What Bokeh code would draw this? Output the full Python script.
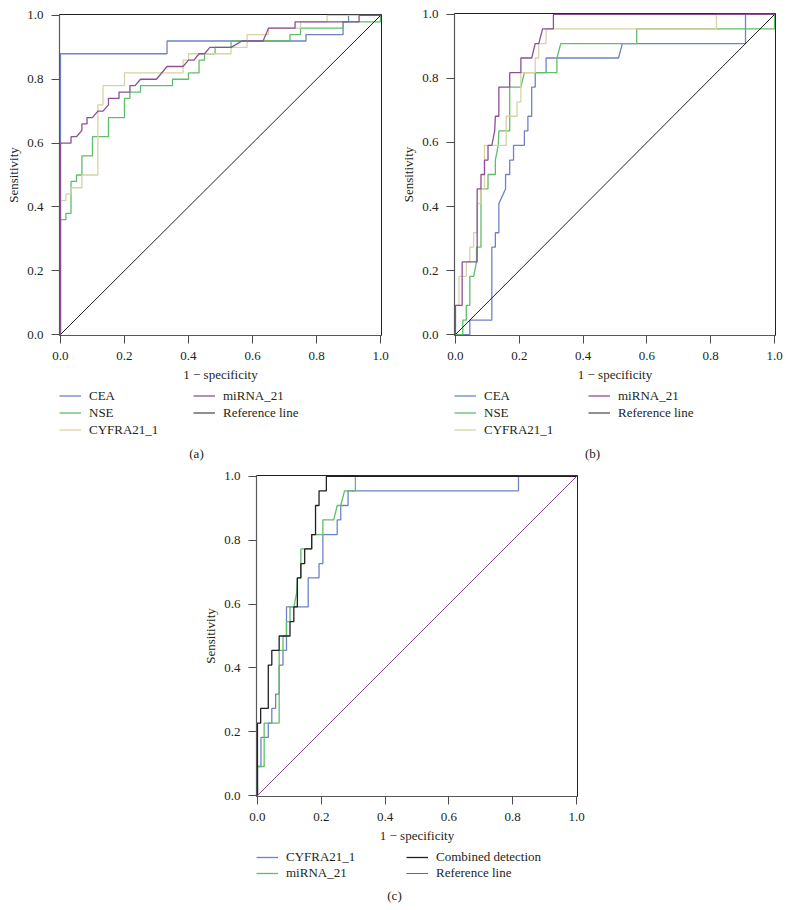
from bokeh.plotting import figure
from bokeh.models import Range1d, FixedTicker, Legend, LegendItem, Label, Spacer, PrintfTickFormatter
from bokeh.layouts import column, row
from bokeh.embed import file_html
from bokeh.resources import INLINE

TICKS = [0.0, 0.2, 0.4, 0.6, 0.8, 1.0]
X_LABEL = "1 \u2212 specificity"
Y_LABEL = "Sensitivity"

# ---------------- panel (a) ----------------
a_cea_x = [0, 0, 0.333, 0.333, 0.767, 0.767, 0.883, 0.883, 0.9, 0.9, 1.0]
a_cea_y = [0, 0.88, 0.88, 0.92, 0.92, 0.94, 0.94, 0.98, 0.98, 1.0, 1.0]

a_nse_x = [0, 0, 0.017, 0.017, 0.033, 0.033, 0.05, 0.05, 0.067, 0.067, 0.1, 0.1, 0.15, 0.15,
           0.2, 0.2, 0.217, 0.217, 0.25, 0.25, 0.35, 0.35, 0.4, 0.4, 0.433, 0.433, 0.45, 0.45,
           0.483, 0.483, 0.533, 0.533, 0.717, 0.717, 0.75, 0.75, 0.883, 0.883, 1.0, 1.0]
a_nse_y = [0, 0.36, 0.36, 0.38, 0.38, 0.48, 0.48, 0.50, 0.50, 0.56, 0.56, 0.62, 0.62, 0.68,
           0.68, 0.74, 0.74, 0.76, 0.76, 0.78, 0.78, 0.80, 0.80, 0.82, 0.82, 0.86, 0.86, 0.88,
           0.88, 0.90, 0.90, 0.92, 0.92, 0.94, 0.94, 0.96, 0.96, 0.98, 0.98, 1.0]

a_cyf_x = [0, 0, 0.017, 0.017, 0.033, 0.033, 0.067, 0.067, 0.117, 0.117, 0.133, 0.133, 0.2, 0.2,
           0.383, 0.383, 0.4, 0.4, 0.533, 0.533, 0.583, 0.583, 0.65, 0.65, 0.75, 0.75, 0.833, 0.833, 1.0]
a_cyf_y = [0, 0.42, 0.42, 0.44, 0.44, 0.46, 0.46, 0.50, 0.50, 0.72, 0.72, 0.78, 0.78, 0.82,
           0.82, 0.86, 0.86, 0.88, 0.88, 0.90, 0.90, 0.94, 0.94, 0.96, 0.96, 0.98, 0.98, 1.0, 1.0]

a_mir_x = [0, 0, 0.033, 0.033, 0.05, 0.067, 0.067, 0.083, 0.083, 0.1, 0.117, 0.133, 0.15, 0.15,
           0.183, 0.183, 0.217, 0.217, 0.233, 0.25, 0.3, 0.333, 0.383, 0.4, 0.417, 0.433, 0.45,
           0.467, 0.533, 0.567, 0.633, 0.65, 0.733, 0.733, 0.933, 0.933, 1.0]
a_mir_y = [0, 0.60, 0.60, 0.62, 0.62, 0.64, 0.66, 0.66, 0.68, 0.68, 0.70, 0.70, 0.72, 0.74,
           0.74, 0.76, 0.76, 0.78, 0.78, 0.80, 0.80, 0.84, 0.84, 0.86, 0.86, 0.88, 0.88,
           0.90, 0.90, 0.92, 0.92, 0.96, 0.96, 0.98, 0.98, 1.0, 1.0]

# ---------------- panel (b) ----------------
b_cea_x = [0, 0.045, 0.045, 0.114, 0.114, 0.125, 0.125, 0.136, 0.136, 0.157, 0.157, 0.170, 0.170,
           0.182, 0.182, 0.216, 0.216, 0.227, 0.227, 0.239, 0.239, 0.25, 0.25, 0.284, 0.284,
           0.511, 0.523, 0.909, 0.909, 1.0]
b_cea_y = [0, 0, 0.045, 0.045, 0.273, 0.273, 0.318, 0.318, 0.409, 0.455, 0.5, 0.5, 0.545,
           0.545, 0.591, 0.591, 0.636, 0.636, 0.682, 0.682, 0.773, 0.773, 0.818, 0.818, 0.864,
           0.864, 0.909, 0.909, 1.0, 1.0]

b_nse_x = [0, 0.023, 0.023, 0.034, 0.034, 0.045, 0.045, 0.057, 0.066, 0.066, 0.080, 0.080,
           0.102, 0.102, 0.125, 0.125, 0.134, 0.136, 0.170, 0.170, 0.205, 0.216, 0.318, 0.318,
           0.330, 0.568, 0.568, 1.0, 1.0]
b_nse_y = [0, 0, 0.045, 0.045, 0.091, 0.091, 0.182, 0.182, 0.227, 0.273, 0.273, 0.455,
           0.455, 0.5, 0.5, 0.545, 0.591, 0.636, 0.636, 0.773, 0.773, 0.818, 0.818, 0.864,
           0.909, 0.909, 0.955, 0.955, 1.0]

b_cyf_x = [0, 0, 0.011, 0.011, 0.034, 0.034, 0.045, 0.045, 0.057, 0.057, 0.068, 0.068, 0.080,
           0.080, 0.091, 0.091, 0.159, 0.159, 0.193, 0.193, 0.205, 0.205, 0.250, 0.250, 0.261,
           0.261, 0.284, 0.284, 0.818, 0.818, 1.0]
b_cyf_y = [0, 0.091, 0.091, 0.182, 0.182, 0.227, 0.227, 0.273, 0.273, 0.318, 0.318, 0.409,
           0.409, 0.455, 0.455, 0.591, 0.591, 0.682, 0.682, 0.727, 0.727, 0.818, 0.818, 0.864,
           0.864, 0.909, 0.909, 0.955, 0.955, 1.0, 1.0]

b_mir_x = [0, 0, 0.021, 0.021, 0.068, 0.068, 0.080, 0.080, 0.091, 0.091, 0.102, 0.102, 0.114,
           0.123, 0.125, 0.136, 0.136, 0.170, 0.170, 0.205, 0.205, 0.239, 0.250, 0.261, 0.273,
           0.307, 0.307, 1.0]
b_mir_y = [0, 0.091, 0.091, 0.227, 0.227, 0.455, 0.455, 0.5, 0.5, 0.545, 0.545, 0.591, 0.591,
           0.636, 0.682, 0.682, 0.773, 0.773, 0.818, 0.818, 0.864, 0.864, 0.909, 0.909, 0.955,
           0.955, 1.0, 1.0]

# ---------------- panel (c) ----------------
c_cyf_x = [0, 0, 0.011, 0.011, 0.034, 0.034, 0.045, 0.045, 0.057, 0.057, 0.068, 0.068, 0.080,
           0.080, 0.091, 0.091, 0.159, 0.159, 0.193, 0.193, 0.205, 0.205, 0.250, 0.250, 0.261,
           0.261, 0.284, 0.284, 0.818, 0.818, 1.0]
c_cyf_y = [0, 0.091, 0.091, 0.182, 0.182, 0.227, 0.227, 0.273, 0.273, 0.318, 0.318, 0.409,
           0.409, 0.455, 0.455, 0.591, 0.591, 0.682, 0.682, 0.727, 0.727, 0.818, 0.818, 0.864,
           0.864, 0.909, 0.909, 0.955, 0.955, 1.0, 1.0]

c_mir_x = [0, 0, 0.021, 0.021, 0.068, 0.068, 0.080, 0.080, 0.091, 0.091, 0.102, 0.102, 0.114,
           0.123, 0.125, 0.136, 0.136, 0.170, 0.170, 0.205, 0.205, 0.239, 0.250, 0.261, 0.273,
           0.307, 0.307, 1.0]
c_mir_y = [0, 0.091, 0.091, 0.227, 0.227, 0.455, 0.455, 0.5, 0.5, 0.545, 0.545, 0.591, 0.591,
           0.636, 0.682, 0.682, 0.773, 0.773, 0.818, 0.818, 0.864, 0.864, 0.909, 0.909, 0.955,
           0.955, 1.0, 1.0]

c_comb_x = [0, 0, 0.010, 0.010, 0.034, 0.034, 0.045, 0.045, 0.068, 0.068, 0.102, 0.102, 0.114,
            0.114, 0.125, 0.125, 0.136, 0.136, 0.148, 0.148, 0.170, 0.170, 0.182, 0.182, 0.193,
            0.193, 0.216, 0.216, 1.0]
c_comb_y = [0, 0.227, 0.227, 0.273, 0.273, 0.409, 0.409, 0.455, 0.455, 0.5, 0.5, 0.545, 0.545,
            0.591, 0.591, 0.682, 0.682, 0.727, 0.727, 0.773, 0.773, 0.818, 0.818, 0.909, 0.909,
            0.955, 0.955, 1.0, 1.0]

ref_x = [0, 1]
ref_y = [0, 1]

BLUE = "#6f83c4"
GREEN = "#5dbf69"
BEIGE = "#d8d2a4"
PURPLE = "#8c4f96"
BLACK = "#231f20"
TEXT = "#231f20"
FONT = "Liberation Serif"


def make_panel(series, width, height, bl, br, bt):
    p = figure(width=width, height=height, output_backend="svg", toolbar_location=None,
               x_range=Range1d(-0.003, 1.003), y_range=Range1d(-0.003, 1.003),
               min_border_left=bl, min_border_right=br, min_border_top=bt,
               min_border_bottom=49)
    p.background_fill_color = "white"
    p.border_fill_color = "white"
    p.xgrid.visible = False
    p.ygrid.visible = False
    p.outline_line_color = BLACK
    p.outline_line_width = 1
    p.xaxis.axis_label = X_LABEL
    p.yaxis.axis_label = Y_LABEL
    for ax in (p.xaxis[0], p.yaxis[0]):
        ax.ticker = FixedTicker(ticks=TICKS)
        ax.formatter = PrintfTickFormatter(format="%.1f")
        ax.minor_tick_line_color = None
        ax.major_tick_in = 0
        ax.major_tick_out = 8
        ax.major_tick_line_color = "#4d4d4f"
        ax.axis_line_color = "#58595b"
        ax.axis_line_width = 1.2
        ax.major_label_text_font = FONT
        ax.major_label_text_font_size = "13px"
        ax.major_label_text_color = TEXT
        ax.axis_label_text_font = FONT
        ax.axis_label_text_font_size = "13px"
        ax.axis_label_text_font_style = "normal"
        ax.axis_label_text_color = TEXT
    p.xaxis.major_label_standoff = 8
    p.xaxis.axis_label_standoff = 4
    p.yaxis.major_label_standoff = 8
    p.yaxis.axis_label_standoff = 3

    for name, xs, ys, color, lw in series:
        p.line(xs, ys, line_color=color, line_width=lw)
    return p


def make_legend(series, nrows, label, width, height, lx, ly, label_width, row_h, tx, ty):
    # legend-only strip; its ranges are set away from the data so only the legend shows
    f = figure(width=width, height=height, output_backend="svg", toolbar_location=None,
               x_range=Range1d(5, 6), y_range=Range1d(5, 6),
               x_axis_location=None, y_axis_location=None,
               min_border_left=0, min_border_right=0, min_border_top=0, min_border_bottom=0)
    f.outline_line_color = None
    f.background_fill_color = "white"
    f.border_fill_color = "white"
    f.grid.visible = False
    items = []
    for name, xs, ys, color, lw in series:
        r = f.line(xs, ys, line_color=color, line_width=lw)
        items.append(LegendItem(label=name, renderers=[r]))
    leg = Legend(items=items, location=(lx, ly), orientation="vertical", nrows=nrows,
                 glyph_width=22, glyph_height=row_h, label_height=row_h,
                 label_width=label_width, label_standoff=8, spacing=0, padding=0, margin=0,
                 label_text_font=FONT, label_text_font_size="13px", label_text_color=TEXT,
                 border_line_alpha=0, background_fill_alpha=0)
    f.add_layout(leg, "center")
    f.add_layout(Label(x=tx, y=ty, x_units="screen", y_units="screen", text=label,
                       text_align="center", text_baseline="middle", text_font=FONT,
                       text_font_size="13px", text_color=TEXT))
    return f


series_a = [
    ("CEA", a_cea_x, a_cea_y, BLUE, 1.3),
    ("NSE", a_nse_x, a_nse_y, GREEN, 1.3),
    ("CYFRA21_1", a_cyf_x, a_cyf_y, BEIGE, 1.3),
    ("miRNA_21", a_mir_x, a_mir_y, PURPLE, 1.3),
    ("Reference line", ref_x, ref_y, BLACK, 1.0),
]
series_b = [
    ("CEA", b_cea_x, b_cea_y, BLUE, 1.3),
    ("NSE", b_nse_x, b_nse_y, GREEN, 1.3),
    ("CYFRA21_1", b_cyf_x, b_cyf_y, BEIGE, 1.3),
    ("miRNA_21", b_mir_x, b_mir_y, PURPLE, 1.3),
    ("Reference line", ref_x, ref_y, BLACK, 1.0),
]
series_c = [
    ("CYFRA21_1", c_cyf_x, c_cyf_y, BLUE, 1.3),
    ("miRNA_21", c_mir_x, c_mir_y, GREEN, 1.3),
    ("Combined detection", c_comb_x, c_comb_y, BLACK, 1.3),
    ("Reference line", ref_x, ref_y, PURPLE, 1.0),
]

pa = make_panel(series_a, 395, 384, 59, 14, 14)
la = make_legend(series_a, 3, "(a)", 395, 78, 0, 24, 104, 17, 137, 9)
pb = make_panel(series_b, 390, 384, 59, 10, 13)
lb = make_legend(series_b, 3, "(b)", 390, 78, 0, 24, 104, 17, 138, 9)
pc = make_panel(series_c, 397, 383, 59, 17, 13)
lc = make_legend(series_c, 2, "(c)", 397, 60, 0, 24, 120, 16, 138, 10)

layout = column(row(column(pa, la), column(pb, lb)),
                row(Spacer(width=197, height=443), column(pc, lc)))

open("out.html", "w").write(file_html(layout, INLINE))
